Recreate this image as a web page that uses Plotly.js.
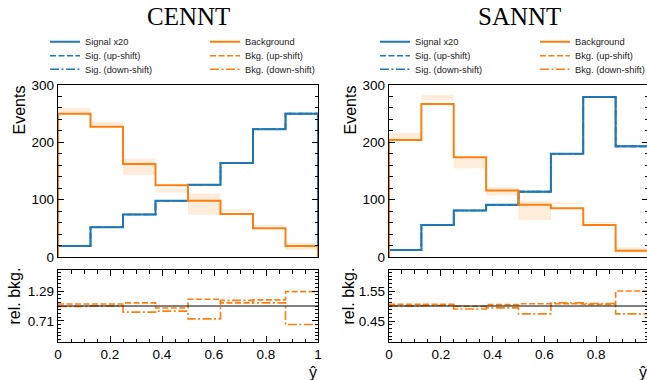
<!DOCTYPE html>
<html>
<head>
<meta charset="utf-8">
<script src="https://cdn.plot.ly/plotly-3.0.1.min.js"></script>
<style>
  html, body { margin: 0; padding: 0; overflow: hidden; background: #fff; }
  #chart { width: 648px; height: 380px; }
</style>
</head>
<body>
<div id="chart"></div>
<script>
// Histogram binning of the network output (y-hat)
const binEdges = [0, 0.125, 0.25, 0.375, 0.5, 0.625, 0.75, 0.875, 1];

// CENNT: events per bin (signal scaled x20) and relative background shifts
const cenntSignal   = [19, 52, 74, 98, 126, 164, 223, 250];
const cenntSigUp    = [19, 52, 74, 98, 126, 164, 223, 250];
const cenntSigDown  = [19, 52, 74, 98, 126, 164, 223, 250];
const cenntBkg      = [250, 227, 162, 125, 98, 75, 50, 19];
const cenntBkgUp    = [1.04, 1.04, 1.06, 0.96, 1.13, 1.06, 1.12, 1.28];
const cenntBkgDown  = [0.99, 1.00, 0.88, 0.90, 0.75, 1.11, 1.06, 0.64];
const cenntRatioTicks = [0.71, 1.29];

// SANNT
const sanntSignal   = [12, 56, 81, 91, 114, 180, 279, 193];
const sanntSigUp    = [12, 56, 81, 91, 114, 180, 279, 193];
const sanntSigDown  = [12, 56, 81, 91, 114, 180, 279, 193];
const sanntBkg      = [204, 267, 174, 116, 91, 85, 56, 11];
const sanntBkgUp    = [1.06, 1.06, 0.99, 1.05, 1.08, 1.08, 1.06, 1.55];
const sanntBkgDown  = [1.00, 1.02, 0.89, 0.93, 0.71, 1.12, 1.09, 0.71];
const sanntRatioTicks = [0.45, 1.55];

const eventTicks = [0, 100, 200, 300];
const xTicks = [0, 0.2, 0.4, 0.6, 0.8, 1];
const xTickText = ['0', '0.2', '0.4', '0.6', '0.8', '1'];

const BLUE = '#1f77b4';
const ORANGE = '#ff7f0e';
const SANS = 'Liberation Sans, Arial, sans-serif';
const SERIF = 'Liberation Serif, Times New Roman, serif';
const DASH = '6px,2.5px';
const DASHDOT = '9px,2.5px,2px,2.5px';

// figure geometry in pixels
const W = 648, H = 380, ML = 58;
const PW = W - ML;
const px2x = p => (p - ML) / PW;
const px2y = p => 1 - p / H;

// closed step outline of a histogram (drops to zero at both ends)
function histOutline(values) {
  const n = values.length;
  const x = [binEdges[0]].concat(binEdges.slice(0, n)).concat([binEdges[n], binEdges[n]]);
  const y = [0].concat(values).concat([values[n - 1], 0]);
  return { x, y };
}
// open step line over the bins
function stepLine(values) {
  return { x: binEdges.slice(), y: values.concat([values[values.length - 1]]) };
}
const binCenters = binEdges.slice(0, -1).map((e, i) => (e + binEdges[i + 1]) / 2);

function panelTraces(sig, sigUp, sigDown, bkg, up, down, xa, ya, xr, yr, legs) {
  const lo = bkg.map((b, i) => b * Math.min(up[i], down[i]));
  const hi = bkg.map((b, i) => b * Math.max(up[i], down[i]));
  const traces = [];
  // background systematic band
  traces.push({
    type: 'bar', x: binCenters, base: lo, y: hi.map((h, i) => h - lo[i]),
    width: binEdges[1] - binEdges[0], xaxis: xa, yaxis: ya,
    marker: { color: 'rgba(255,127,14,0.15)', line: { width: 0 } },
    showlegend: false, hoverinfo: 'skip'
  });
  const s = histOutline(sig), su = histOutline(sigUp), sd = histOutline(sigDown), b = histOutline(bkg);
  traces.push({ type: 'scatter', mode: 'lines', x: s.x, y: s.y, xaxis: xa, yaxis: ya,
    line: { color: BLUE, width: 2, shape: 'hv' }, name: 'Signal x20', legend: legs[0] });
  traces.push({ type: 'scatter', mode: 'lines', x: su.x, y: su.y, xaxis: xa, yaxis: ya,
    line: { color: BLUE, width: 1.6, shape: 'hv', dash: DASH }, name: 'Sig. (up-shift)', legend: legs[1] });
  traces.push({ type: 'scatter', mode: 'lines', x: sd.x, y: sd.y, xaxis: xa, yaxis: ya,
    line: { color: BLUE, width: 1.6, shape: 'hv', dash: DASHDOT }, name: 'Sig. (down-shift)', legend: legs[2] });
  traces.push({ type: 'scatter', mode: 'lines', x: b.x, y: b.y, xaxis: xa, yaxis: ya,
    line: { color: ORANGE, width: 2, shape: 'hv' }, name: 'Background', legend: legs[3] });
  const ru = stepLine(up), rd = stepLine(down);
  traces.push({ type: 'scatter', mode: 'lines', x: ru.x, y: ru.y, xaxis: xr, yaxis: yr,
    line: { color: ORANGE, width: 1.6, shape: 'hv', dash: DASH }, name: 'Bkg. (up-shift)', legend: legs[4] });
  traces.push({ type: 'scatter', mode: 'lines', x: rd.x, y: rd.y, xaxis: xr, yaxis: yr,
    line: { color: ORANGE, width: 1.6, shape: 'hv', dash: DASHDOT }, name: 'Bkg. (down-shift)', legend: legs[5] });
  return traces;
}

const data = []
  .concat(panelTraces(cenntSignal, cenntSigUp, cenntSigDown, cenntBkg, cenntBkgUp, cenntBkgDown,
    'x', 'y', 'x2', 'y2', ['legend', 'legend2', 'legend3', 'legend4', 'legend5', 'legend6']))
  .concat(panelTraces(sanntSignal, sanntSigUp, sanntSigDown, sanntBkg, sanntBkgUp, sanntBkgDown,
    'x3', 'y3', 'x4', 'y4', ['legend7', 'legend8', 'legend9', 'legend10', 'legend11', 'legend12']));

// panel placement
const leftDom = [px2x(58), px2x(318)];
const rightDom = [px2x(389), px2x(648)];
const topDom = [px2y(257), px2y(85)];
const ratioDom = [px2y(342), px2y(270)];

const tickFont = { family: SANS, size: 13.5, color: '#000' };
const common = { showline: true, linecolor: '#000', linewidth: 1.2, mirror: 'allticks',
  ticks: 'inside', tickcolor: '#000', tickwidth: 1, ticklen: 6, showgrid: false,
  zeroline: false, automargin: false, tickfont: tickFont };

function topX(dom, anchor) {
  return Object.assign({}, common, { domain: dom, anchor: anchor, range: [0, 1],
    ticks: '', showticklabels: false, mirror: true });
}
function topY(dom, anchor) {
  return Object.assign({}, common, { domain: topDom, anchor: anchor, range: [0, 300],
    tickmode: 'array', tickvals: eventTicks, ticktext: eventTicks.map(String),
    minor: { dtick: 20, tick0: 0, ticks: 'inside', ticklen: 3.5, tickcolor: '#000', tickwidth: 1 } });
}
function ratioX(dom, anchor) {
  return Object.assign({}, common, { domain: dom, anchor: anchor, range: [0, 1],
    tickmode: 'array', tickvals: xTicks, ticktext: xTickText,
    minor: { dtick: 0.05, tick0: 0, ticks: 'inside', ticklen: 3.5, tickcolor: '#000', tickwidth: 1 } });
}
function ratioY(anchor, range, ticks) {
  const d = ticks[1] - 1;
  return Object.assign({}, common, { domain: ratioDom, anchor: anchor, range: range,
    tickmode: 'array', tickvals: ticks, ticktext: ticks.map(t => t.toFixed(2)),
    minor: { dtick: d / 4, tick0: ticks[0], ticks: 'inside', ticklen: 3, tickcolor: '#000', tickwidth: 1 } });
}

const legendRows = [41.7, 55.7, 69.3];
const legendCols = [[45, 205], [375, 535]];
const layout = {
  width: W, height: H,
  margin: { l: ML, r: 0, t: 0, b: 0, autoexpand: false },
  paper_bgcolor: '#fff', plot_bgcolor: '#fff',
  barmode: 'overlay', showlegend: true,
  xaxis: topX(leftDom, 'y'), yaxis: topY(topDom, 'x'),
  xaxis2: ratioX(leftDom, 'y2'), yaxis2: ratioY('x2', [0.30, 1.70], cenntRatioTicks),
  xaxis3: topX(rightDom, 'y3'), yaxis3: topY(topDom, 'x3'),
  xaxis4: ratioX(rightDom, 'y4'), yaxis4: ratioY('x4', [-0.32, 2.32], sanntRatioTicks),
  shapes: [
    { type: 'line', xref: 'x2 domain', yref: 'y2', x0: 0, x1: 1, y0: 1, y1: 1, line: { color: '#000', width: 1 } },
    { type: 'line', xref: 'x4 domain', yref: 'y4', x0: 0, x1: 1, y0: 1, y1: 1, line: { color: '#000', width: 1 } }
  ],
  annotations: [
    { text: 'CENNT', xref: 'paper', yref: 'paper', x: px2x(188), y: px2y(16), xanchor: 'center', yanchor: 'middle', showarrow: false, font: { family: SERIF, size: 25, color: '#000' } },
    { text: 'SANNT', xref: 'paper', yref: 'paper', x: px2x(519), y: px2y(16), xanchor: 'center', yanchor: 'middle', showarrow: false, font: { family: SERIF, size: 25, color: '#000' } },
    { text: 'Events', xref: 'paper', yref: 'paper', x: px2x(19), y: px2y(84), xanchor: 'center', yanchor: 'top', textangle: -90, showarrow: false, font: { family: SANS, size: 16, color: '#000' } },
    { text: 'Events', xref: 'paper', yref: 'paper', x: px2x(350), y: px2y(84), xanchor: 'center', yanchor: 'top', textangle: -90, showarrow: false, font: { family: SANS, size: 16, color: '#000' } },
    { text: 'rel. bkg.', xref: 'paper', yref: 'paper', x: px2x(14), y: px2y(266), xanchor: 'center', yanchor: 'top', textangle: -90, showarrow: false, font: { family: SANS, size: 16, color: '#000' } },
    { text: 'rel. bkg.', xref: 'paper', yref: 'paper', x: px2x(348), y: px2y(266), xanchor: 'center', yanchor: 'top', textangle: -90, showarrow: false, font: { family: SANS, size: 16, color: '#000' } },
    { text: 'ŷ', xref: 'paper', yref: 'paper', x: px2x(319), y: px2y(372), xanchor: 'right', yanchor: 'middle', showarrow: false, font: { family: SANS, size: 16, color: '#000' } },
    { text: 'ŷ', xref: 'paper', yref: 'paper', x: px2x(649), y: px2y(372), xanchor: 'right', yanchor: 'middle', showarrow: false, font: { family: SANS, size: 16, color: '#000' } }
  ]
};

// one single-entry legend per slot: two columns of three rows above each panel
const legendFont = { family: SANS, size: 9.3, color: '#222' };
let k = 1;
legendCols.forEach(cols => {
  cols.forEach(cx => {
    legendRows.forEach(ry => {
      const key = k === 1 ? 'legend' : 'legend' + k;
      layout[key] = { x: px2x(cx), y: px2y(ry), xanchor: 'left', yanchor: 'middle',
        bgcolor: 'rgba(0,0,0,0)', borderwidth: 0, font: legendFont, itemclick: false, itemdoubleclick: false };
      k++;
    });
  });
});

Plotly.newPlot('chart', data, layout, { staticPlot: true, displayModeBar: false });
</script>
</body>
</html>
